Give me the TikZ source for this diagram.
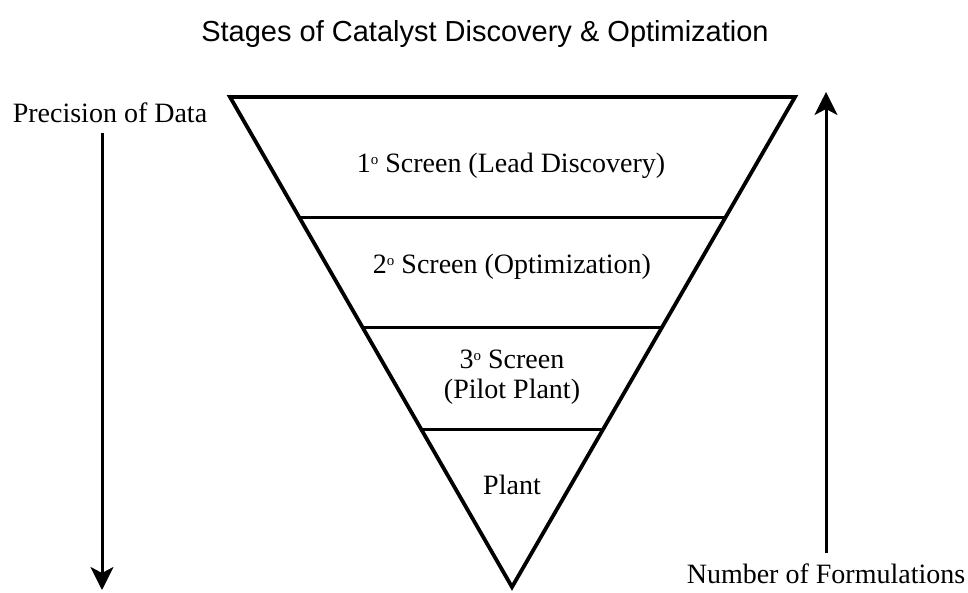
\documentclass[tikz,border=0pt]{standalone}
\usepackage{fontspec}
\setmainfont{Liberation Serif}
\newfontfamily\titlefont{Liberation Sans}
\usetikzlibrary{arrows.meta,calc}
\newcommand{\dego}{\raisebox{8pt}{\fontsize{15}{15}\selectfont o}}
\tikzset{
  lbl/.style={inner sep=0pt, anchor=base, font=\fontsize{28}{32}\selectfont},
  ttl/.style={inner sep=0pt, anchor=base, font=\titlefont\fontsize{29}{33}\selectfont},
  edge/.style={line width=3.8pt, line join=miter},
  divider/.style={line width=3pt},
  bigarrow/.style={line width=3pt, -{Stealth[length=23pt,width=23pt,inset=6pt]}}
}
\begin{document}
\begin{tikzpicture}[x=1pt,y=-1pt]
\useasboundingbox (0,0) rectangle (968,592);
% title
\node[ttl] (title) at (485,41) {Stages of Catalyst Discovery \& Optimization};
% funnel
\coordinate (tl) at (230,97);
\coordinate (tr) at (795,97);
\coordinate (ap) at (512,587);
\draw[edge] (tl) -- (tr) -- (ap) -- cycle;
\coordinate (l1) at ($(tl)!0.2455!(ap)$);
\coordinate (r1) at ($(tr)!0.2455!(ap)$);
\coordinate (l2) at ($(tl)!0.4700!(ap)$);
\coordinate (r2) at ($(tr)!0.4700!(ap)$);
\coordinate (l3) at ($(tl)!0.6782!(ap)$);
\coordinate (r3) at ($(tr)!0.6782!(ap)$);
\draw[divider] (l1) -- (r1);
\draw[divider] (l2) -- (r2);
\draw[divider] (l3) -- (r3);
% stage labels
\node[lbl] (s1) at (511,172) {1\dego\ Screen (Lead Discovery)};
\node[lbl] (s2) at (512,273) {2\dego\ Screen (Optimization)};
\node[lbl] (s3a) at (512,368) {3\dego\ Screen};
\node[lbl] (s3b) at (512,398) {(Pilot Plant)};
\node[lbl] (s4) at (512,494) {Plant};
% side labels and arrows
\node[lbl] (prec) at (110,122) {Precision of Data};
\node[lbl] (numf) at (826,583) {Number of Formulations};
\coordinate (pa) at (102,133);
\coordinate (pb) at (102,590);
\coordinate (na) at (826,553);
\coordinate (nb) at (826,92);
\draw[bigarrow] (pa) -- (pb);
\draw[bigarrow] (na) -- (nb);
\end{tikzpicture}
\end{document}
